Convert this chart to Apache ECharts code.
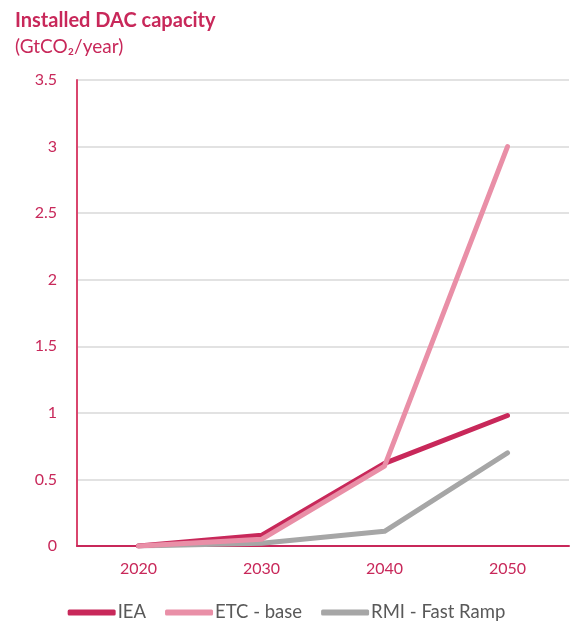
<!DOCTYPE html>
<html><head><meta charset="utf-8">
<script src="https://cdn.jsdelivr.net/npm/echarts@6/dist/echarts.min.js"></script>
<style>html,body{margin:0;padding:0;background:#fff}#c{width:573px;height:624px}</style>
</head><body><div id="c"></div>
<script>
const categories = ['2020','2030','2040','2050'];
const iea = [0, 0.08, 0.62, 0.98];
const etc = [0, 0.05, 0.60, 3.0];
const rmi = [0, 0.02, 0.11, 0.70];
const seriesNames = ['IEA','ETC - base','RMI - Fast Ramp'];
const colors = ['#c8285a','#e98fa7','#a6a6a6'];
const FONT = 'Lato, "Noto Sans", sans-serif';
const chart = echarts.init(document.getElementById('c'));
const mk = (name, data, color, z) => ({
  name, type:'line', data, z, symbol:'none', smooth:false,
  lineStyle:{color, width:5, cap:'round', join:'round'}, itemStyle:{color}
});
chart.setOption({
  animation:false,
  textStyle:{fontFamily:FONT},
  title:[
    {text:'Installed DAC capacity', left:15, top:11, padding:0, textStyle:{color:'#c8285a', fontSize:20, fontWeight:'bold', fontFamily:FONT}},
    {text:'(GtCO₂/year)', left:15, top:37, padding:0, textStyle:{color:'#c8285a', fontSize:19, fontWeight:'normal', fontFamily:FONT}}
  ],
  grid:{left:77, right:4, top:80, bottom:78, containLabel:false},
  xAxis:{type:'category', data:categories, boundaryGap:true,
    axisLine:{lineStyle:{color:'#c8285a', width:2}},
    axisTick:{show:false},
    axisLabel:{color:'#c8285a', fontSize:16, margin:15, fontFamily:FONT}},
  yAxis:{type:'value', min:0, max:3.5, interval:0.5,
    axisLine:{show:true, lineStyle:{color:'#d9466e', width:2}},
    axisTick:{show:false},
    splitLine:{lineStyle:{color:'#d9d9d9', width:1.5}},
    axisLabel:{color:'#c8285a', fontSize:16, margin:20, fontFamily:FONT,
      formatter:v=>String(v)}},
  legend:{top:603, left:'center', padding:0, itemWidth:48, itemHeight:6, itemGap:19, icon:'roundRect',
    data:seriesNames,
    textStyle:{color:'#595959', fontSize:18.5, padding:[0,0,0,-3], fontFamily:FONT}},
  series:[
    mk(seriesNames[2], rmi, colors[2], 1),
    mk(seriesNames[0], iea, colors[0], 2),
    mk(seriesNames[1], etc, colors[1], 3)
  ]
});
</script></body></html>
